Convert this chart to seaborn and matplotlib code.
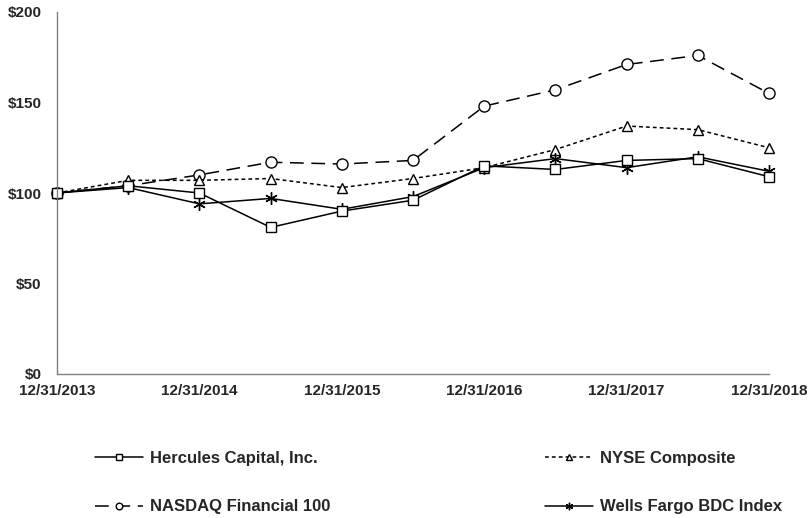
import matplotlib
matplotlib.use("Agg")
import matplotlib.pyplot as plt
import seaborn as sns
import pandas as pd

# data (cumulative value of $100 invested)
dates = ["12/31/2013", "6/30/2014", "12/31/2014", "6/30/2015", "12/31/2015", "6/30/2016",
         "12/31/2016", "6/30/2017", "12/31/2017", "6/30/2018", "12/31/2018"]
hercules = [100, 104, 100, 81, 90, 96, 115, 113, 118, 119, 109]
nyse = [100, 107, 107, 108, 103, 108, 114, 124, 137, 135, 125]
nasdaq = [100, 104, 110, 117, 116, 118, 148, 157, 171, 176, 155]
wells = [100, 103, 94, 97, 91, 98, 114, 119, 114, 120, 112]
yticks = [0, 50, 100, 150, 200]

df = pd.DataFrame({
    "period": range(len(dates)),
    "Hercules Capital, Inc.": hercules,
    "NYSE Composite": nyse,
    "NASDAQ Financial 100": nasdaq,
    "Wells Fargo BDC Index": wells,
})

sns.set_style("white")
plt.rcParams["font.family"] = ["Liberation Sans", "DejaVu Sans"]
plt.rcParams["font.weight"] = "bold"

fig = plt.figure(figsize=(8.1, 5.18), dpi=100)
ax = fig.add_axes([57 / 810, 1 - 374 / 518, (769 - 57) / 810, (374 - 12) / 518])

styles = {
    "Hercules Capital, Inc.": dict(marker="s", linestyle="-", markersize=7.5),
    "NYSE Composite": dict(marker="^", linestyle=(0, (2.5, 2)), markersize=7.5),
    "NASDAQ Financial 100": dict(marker="o", linestyle=(0, (9, 5)), markersize=8),
    "Wells Fargo BDC Index": dict(marker=(6, 2, 0), linestyle="-", markersize=9),
}

for name in ["NASDAQ Financial 100", "NYSE Composite", "Wells Fargo BDC Index", "Hercules Capital, Inc."]:
    sns.lineplot(data=df, x="period", y=name, ax=ax, color="black", linewidth=1.1,
                 markerfacecolor="white", markeredgecolor="black", markeredgewidth=1.0,
                 label=name, clip_on=False, **styles[name])

ax.set_xlim(0, 10)
ax.set_ylim(0, 200)
ax.set_xticks(range(len(dates)))
ax.set_xticklabels([d if i % 2 == 0 else "" for i, d in enumerate(dates)])
ax.set_yticks(yticks)
ax.set_yticklabels([f"${v}" for v in yticks])
ax.set_xlabel("")
ax.set_ylabel("")

for s in ["top", "right"]:
    ax.spines[s].set_visible(False)
for s in ["left", "bottom"]:
    ax.spines[s].set_color("#808080")
    ax.spines[s].set_linewidth(1.0)

ax.tick_params(axis="x", direction="in", length=5, width=1, color="#808080", pad=7, labelsize=11)
ax.tick_params(axis="y", direction="out", length=4, width=1, color="#808080", pad=7, labelsize=11)

handles, labels = ax.get_legend_handles_labels()
ax.get_legend().remove()
order = ["Hercules Capital, Inc.", "NASDAQ Financial 100", "NYSE Composite", "Wells Fargo BDC Index"]
hmap = dict(zip(labels, handles))
fig.legend([hmap[k] for k in order], order, ncol=2, loc="upper left",
           bbox_to_anchor=(95 / 810, 1 - 451 / 518), frameon=False, fontsize=12,
           handlelength=2.9, handletextpad=0.4, columnspacing=12.85, labelspacing=2.0,
           borderpad=0, borderaxespad=0, markerscale=0.6)

fig.savefig("out.png", dpi=100)
